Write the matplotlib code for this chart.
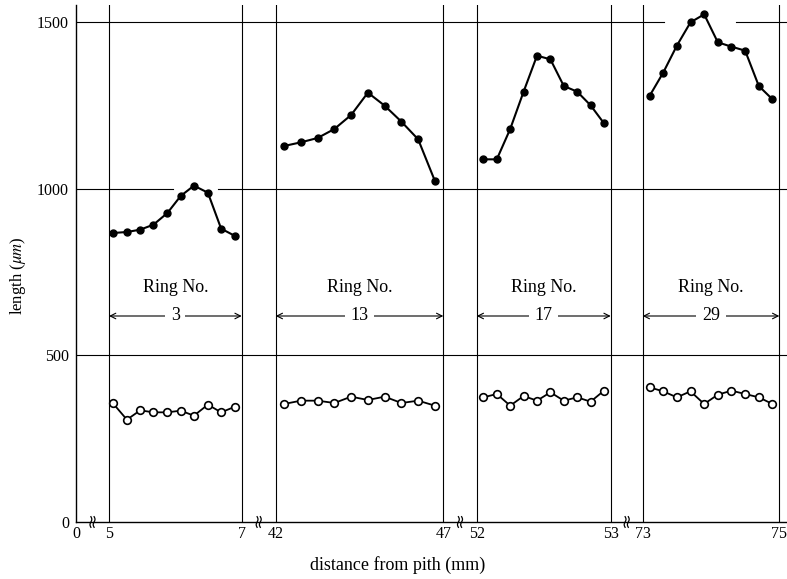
import numpy as np
import matplotlib
matplotlib.use("Agg")
import matplotlib.pyplot as plt

plt.rcParams['font.family'] = ['Liberation Serif', 'DejaVu Serif']
plt.rcParams['mathtext.fontset'] = 'stix'

# Data (x in mm from pith, y in um)
ring_no = ['3', '13', '17', '29']
seg_mm = [(5, 7), (42, 47), (52, 53), (73, 75)]

x1 = [5.06, 5.27, 5.47, 5.67, 5.88, 6.08, 6.28, 6.49, 6.69, 6.90]
x2 = [42.25, 42.75, 43.25, 43.75, 44.25, 44.75, 45.25, 45.75, 46.25, 46.75]
x3 = [52.05, 52.15, 52.25, 52.35, 52.45, 52.55, 52.65, 52.75, 52.85, 52.95]
x4 = [73.1, 73.3, 73.5, 73.7, 73.9, 74.1, 74.3, 74.5, 74.7, 74.9]

upper1 = [867, 870, 877, 892, 927, 978, 1009, 988, 880, 858]
upper2 = [1128, 1139, 1152, 1179, 1221, 1288, 1249, 1201, 1148, 1023]
upper3 = [1088, 1088, 1179, 1291, 1399, 1388, 1308, 1291, 1250, 1196]
upper4 = [1278, 1348, 1429, 1499, 1523, 1439, 1426, 1414, 1308, 1268]

lower1 = [356, 307, 335, 329, 329, 334, 319, 352, 329, 346]
lower2 = [354, 364, 364, 357, 376, 366, 376, 357, 364, 349]
lower3 = [374, 384, 349, 378, 364, 389, 364, 374, 361, 394]
lower4 = [404, 392, 374, 392, 354, 382, 394, 384, 374, 354]

xs = [x1, x2, x3, x4]
uppers = [upper1, upper2, upper3, upper4]
lowers = [lower1, lower2, lower3, lower4]

# layout of the broken x axis (display units)
seg_u = [(33.0, 165.7), (199.7, 367.3), (400.7, 534.7), (566.7, 703.3)]
u_max = 711
y_max = 1551


def to_u(i, mm):
    lo, hi = seg_mm[i]
    ulo, uhi = seg_u[i]
    return ulo + (np.asarray(mm) - lo) / (hi - lo) * (uhi - ulo)


fig = plt.figure(figsize=(7.87, 5.79), dpi=100)
ax = fig.add_axes([76 / 787, 1 - 522 / 579, 711 / 787, 517 / 579])
ax.set_xlim(0, u_max)
ax.set_ylim(0, y_max)

# horizontal lines (with the small gaps seen in the original)
gaps = {500: [], 1000: [(97, 142)], 1500: [(588, 660)]}
for y, gl in gaps.items():
    start = 0
    for g0, g1 in gl:
        ax.plot([start, g0], [y, y], color='black', lw=0.8)
        start = g1
    ax.plot([start, u_max], [y, y], color='black', lw=0.8)

for i in range(4):
    for mm in seg_mm[i]:
        u = to_u(i, mm)
        ax.plot([u, u], [0, y_max], color='black', lw=0.8)

    ax.plot(to_u(i, xs[i]), uppers[i], '-o', color='black', lw=1.5,
            ms=5, zorder=3)
    ax.plot(to_u(i, xs[i]), lowers[i], '-o', color='black', lw=1.3,
            ms=5.5, mfc='white', mec='black', mew=1.2, zorder=3)

    ul, ur = seg_u[i]
    mid = (ul + ur) / 2
    ax.text(mid, 702, 'Ring No.', ha='center', va='center', fontsize=13)
    ax.annotate('', xy=(ul, 618), xytext=(ur, 618),
                arrowprops=dict(arrowstyle='<->', lw=0.8, color='black',
                                shrinkA=0, shrinkB=0, mutation_scale=10))
    ax.text(mid, 618, ring_no[i], ha='center', va='center', fontsize=13,
            bbox=dict(facecolor='white', edgecolor='none', pad=4))

# break marks on the x axis (two small wavy strokes)
t = np.linspace(-1, 1, 20)
for b in [16.5, 182.7, 384.0, 550.7]:
    for dx in (-1.6, 1.6):
        ax.plot(b + dx + 0.9 * np.sin(t * np.pi), t * 16, color='black',
                lw=0.9, clip_on=False, zorder=4)

tick_u = [0.0]
tick_lab = ['0']
for i in range(4):
    for mm in seg_mm[i]:
        tick_u.append(float(to_u(i, mm)))
        tick_lab.append(str(mm))
ax.set_xticks(tick_u)
ax.set_xticklabels(tick_lab)
ax.set_yticks([0, 500, 1000, 1500])
ax.set_yticklabels(['0', '500', '1000', '1500'])
ax.tick_params(axis='both', length=0, labelsize=11.5)
ax.tick_params(axis='x', pad=3)
ax.tick_params(axis='y', pad=5)

ax.spines['top'].set_visible(False)
ax.spines['right'].set_visible(False)
ax.spines['left'].set_linewidth(1.0)
ax.spines['bottom'].set_linewidth(1.0)

fig.text(18 / 787, 1 - 276 / 579, r'length ($\mu m$)', rotation=90,
         ha='center', va='center', fontsize=12)
fig.text(398 / 787, 1 - 565 / 579, 'distance from pith (mm)',
         ha='center', va='center', fontsize=13)

fig.savefig('out.png', dpi=100)
